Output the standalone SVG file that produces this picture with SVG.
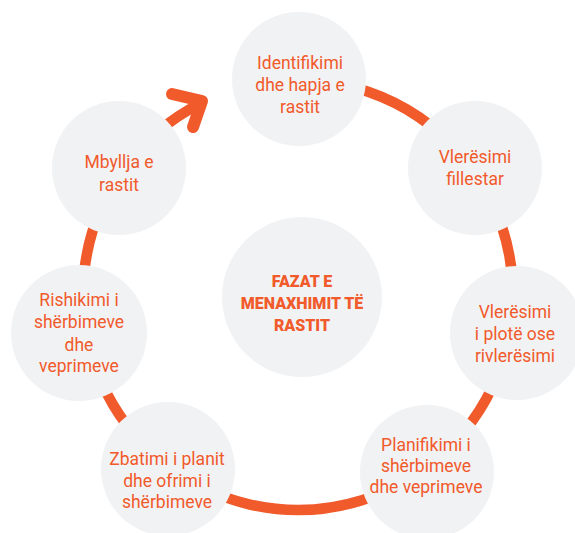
<svg xmlns="http://www.w3.org/2000/svg" width="575" height="533" viewBox="0 0 575 533">
  <style>
    .node { fill: #f1f2f4; }
    .label { font-family: Roboto, "Liberation Sans", sans-serif; font-size: 17.5px; fill: #f15a2b; text-anchor: middle; }
    .title { font-family: Roboto, "Liberation Sans", sans-serif; font-size: 16px; font-weight: 900; fill: #f15a2b; text-anchor: middle; }
    .ring { fill: none; stroke: #f15a2b; stroke-width: 10.5; }
    .head { fill: none; stroke: #f15a2b; stroke-width: 12; stroke-linecap: round; stroke-linejoin: round; }
  </style>
  <rect width="575" height="533" fill="#ffffff"/>

  <!-- cycle ring with arrowhead -->
  <g id="connectors">
    <path class="ring" d="M 200 103.6 A 215 215 0 1 0 270 81.8"/>
    <path class="head" d="M 172 94 L 202 101 L 193 127"/>
  </g>

  <g id="center">
    <circle class="node" cx="302" cy="297" r="80"/>
    <text class="title" x="302" y="287">FAZAT E</text>
    <text class="title" x="302" y="309">MENAXHIMIT TË</text>
    <text class="title" x="302" y="331">RASTIT</text>
  </g>

  <g id="identifikimi">
    <circle class="node" cx="299" cy="79" r="67"/>
    <text class="label" x="300" y="69">Identifikimi</text>
    <text class="label" x="300" y="91">dhe hapja e</text>
    <text class="label" x="300" y="113">rastit</text>
  </g>

  <g id="vleresimi-fillestar">
    <circle class="node" cx="475" cy="168" r="67"/>
    <text class="label" x="475" y="163">Vlerësimi</text>
    <text class="label" x="475" y="185">fillestar</text>
  </g>

  <g id="vleresimi-plote">
    <circle class="node" cx="517" cy="333" r="67"/>
    <text class="label" x="515" y="318">Vlerësimi</text>
    <text class="label" x="515" y="340">i plotë ose</text>
    <text class="label" x="515" y="362">rivlerësimi</text>
  </g>

  <g id="planifikimi">
    <circle class="node" cx="427" cy="472" r="67"/>
    <text class="label" x="426" y="451">Planifikimi i</text>
    <text class="label" x="426" y="472">shërbimeve</text>
    <text class="label" x="426" y="493">dhe veprimeve</text>
  </g>

  <g id="zbatimi">
    <circle class="node" cx="168" cy="469" r="67"/>
    <text class="label" x="167" y="465">Zbatimi i planit</text>
    <text class="label" x="167" y="487">dhe ofrimi i</text>
    <text class="label" x="167" y="508">shërbimeve</text>
  </g>

  <g id="rishikimi">
    <circle class="node" cx="79" cy="333" r="68"/>
    <text class="label" x="79" y="306">Rishikimi i</text>
    <text class="label" x="79" y="328">shërbimeve</text>
    <text class="label" x="79" y="351">dhe</text>
    <text class="label" x="79" y="372">veprimeve</text>
  </g>

  <g id="mbyllja">
    <circle class="node" cx="119" cy="168" r="67"/>
    <text class="label" x="119" y="168">Mbyllja e</text>
    <text class="label" x="119" y="191">rastit</text>
  </g>
</svg>
